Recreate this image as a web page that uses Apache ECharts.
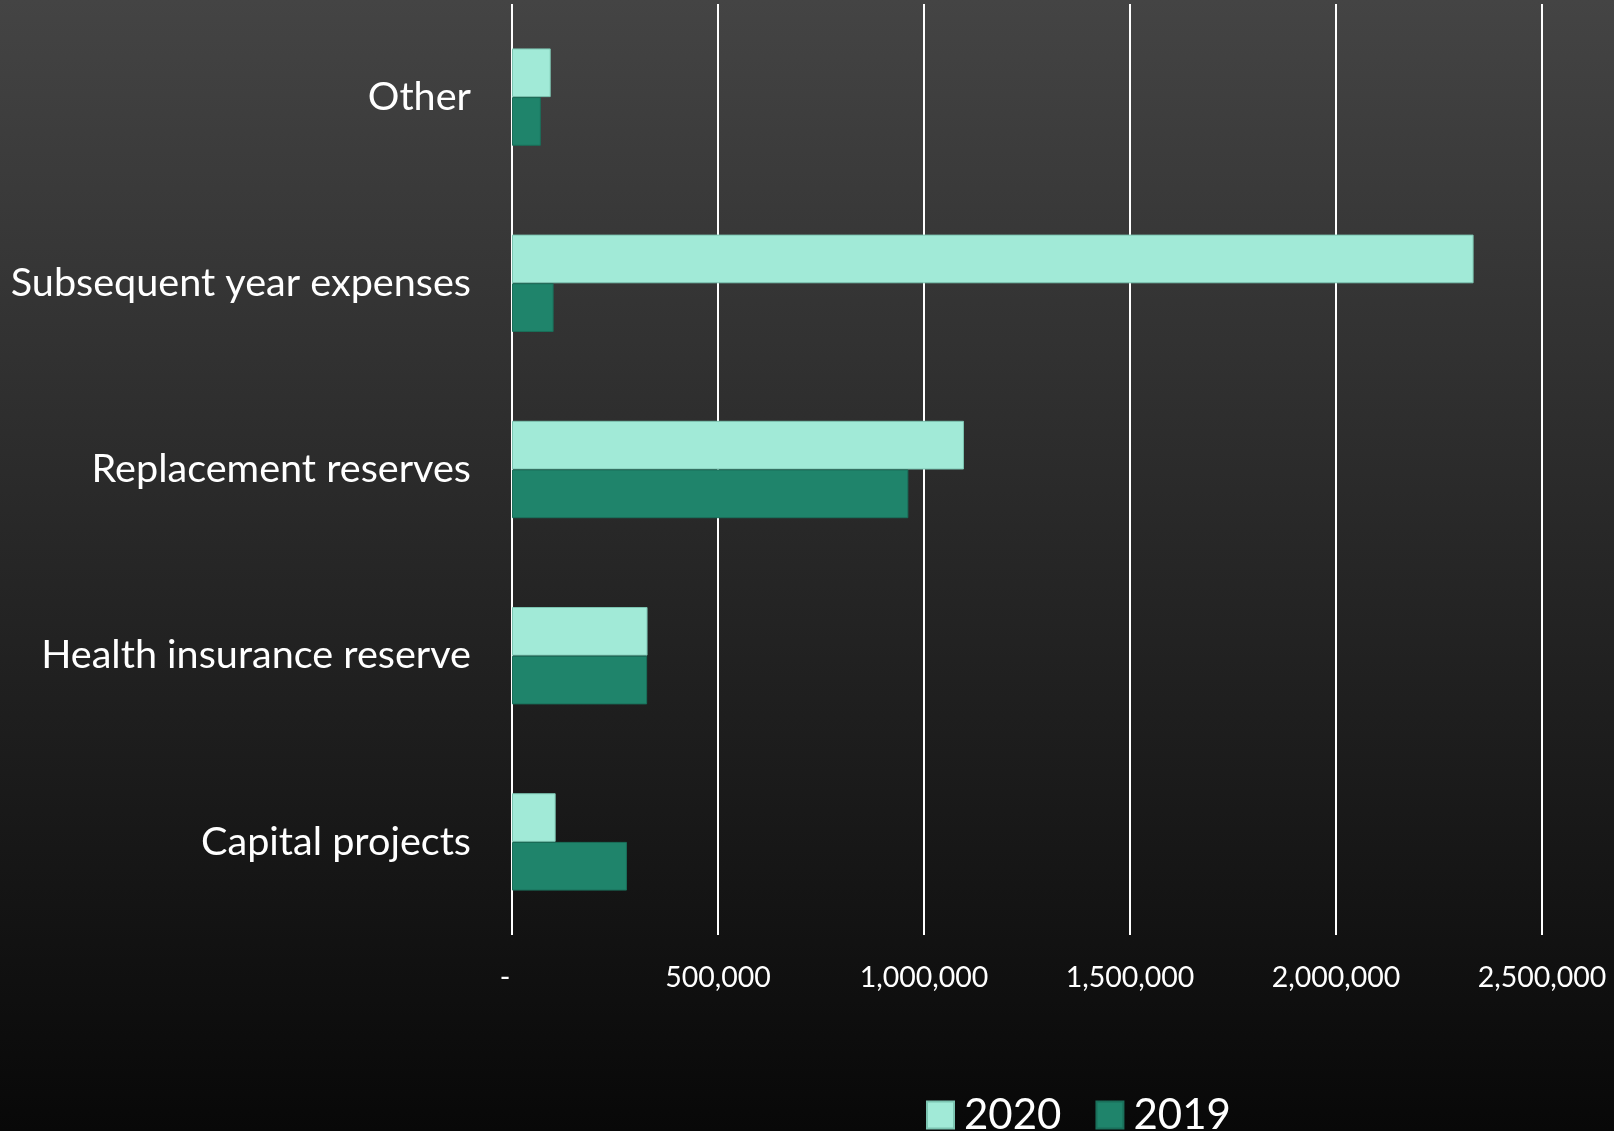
<!DOCTYPE html>
<html>
<head>
<meta charset="utf-8">
<script src="https://cdn.jsdelivr.net/npm/echarts@6/dist/echarts.min.js"></script>
<style>
  html, body { margin: 0; padding: 0; width: 100%; height: 100%; }
  body { background: linear-gradient(to bottom, #444444 0%, #080808 100%); }
  #chart { width: 1614px; height: 1131px; }
</style>
</head>
<body>
<div id="chart"></div>
<script>
// Reserve categories, listed bottom to top along the value axis
const categories = ['Capital projects', 'Health insurance reserve', 'Replacement reserves', 'Subsequent year expenses', 'Other'];
const values2020 = [106000, 329000, 1097000, 2334000, 94000];
const values2019 = [279000, 328000, 962000, 101000, 70000];
const axisTicks = [0, 500000, 1000000, 1500000, 2000000, 2500000];

const FONT = 'Lato';

const chart = echarts.init(document.getElementById('chart'), null, { renderer: 'canvas' });

function fmt(v) {
  if (v === 0) return '{zero|-}';
  return v.toLocaleString('en-US');
}

chart.setOption({
  backgroundColor: 'transparent',
  animation: false,
  grid: { left: 512, right: 72, top: 4, bottom: 196, containLabel: false },
  legend: {
    data: ['2020', '2019'],
    left: 921,
    top: 1089,
    itemWidth: 27,
    itemHeight: 27,
    itemGap: 34,
    icon: 'rect',
    textStyle: { color: '#ffffff', fontFamily: FONT, fontSize: 42, padding: [0, 0, 0, 5] }
  },
  xAxis: {
    type: 'value',
    min: axisTicks[0],
    max: axisTicks[axisTicks.length - 1],
    interval: axisTicks[1] - axisTicks[0],
    axisLine: { show: false },
    axisTick: { show: false },
    splitLine: { show: true, lineStyle: { color: '#ffffff', width: 2 } },
    axisLabel: {
      color: '#ffffff',
      fontFamily: FONT,
      fontSize: 28.5,
      margin: 28,
      formatter: fmt,
      rich: { zero: { color: '#ffffff', fontFamily: FONT, fontSize: 28.5, padding: [0, 14, 0, 0] } }
    }
  },
  yAxis: {
    type: 'category',
    data: categories,
    axisLine: { show: false },
    axisTick: { show: false },
    splitLine: { show: false },
    axisLabel: { color: '#ffffff', fontFamily: FONT, fontSize: 39.6, margin: 41 }
  },
  series: [
    {
      name: '2020',
      type: 'bar',
      data: values2020,
      barGap: '0%',
      barCategoryGap: '47.7%',
      itemStyle: { color: '#a1ead7', borderColor: '#7cc4b1', borderWidth: 1 }
    },
    {
      name: '2019',
      type: 'bar',
      data: values2019,
      barGap: '0%',
      barCategoryGap: '47.7%',
      itemStyle: { color: '#1f846b', borderColor: '#1a6f5a', borderWidth: 1 }
    }
  ]
});
</script>
</body>
</html>
